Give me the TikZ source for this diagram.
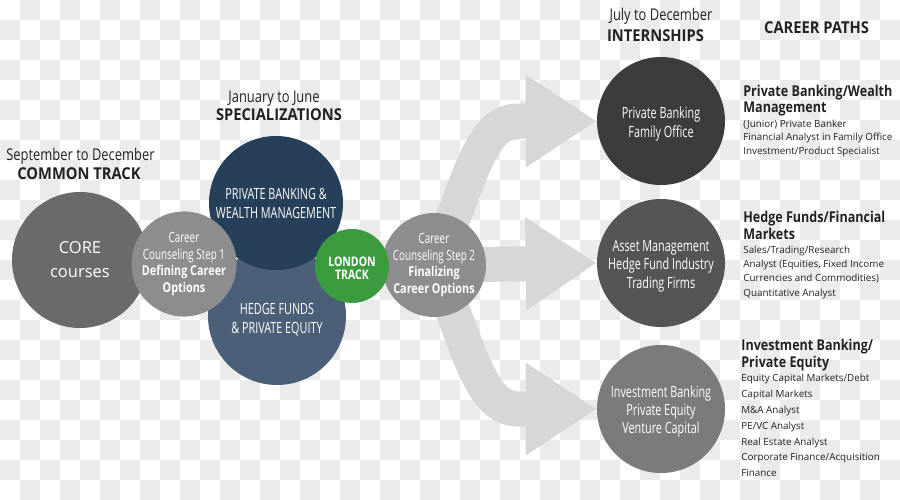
\documentclass[tikz,border=0pt]{standalone}
\usepackage{fontspec}
\setmainfont{Open Sans}
\newfontfamily\xcondf[FakeStretch=0.7]{Open Sans}
\newfontfamily\condf[FakeStretch=0.8]{Open Sans}
\newfontfamily\headf[FakeStretch=0.84]{Open Sans}
\newfontfamily\narrowf[FakeStretch=0.9]{Open Sans}
\usetikzlibrary{positioning,arrows.meta,backgrounds}
\definecolor{checkgray}{HTML}{EBEBEB}
\definecolor{coregray}{HTML}{6A6A6A}
\definecolor{stepgray}{HTML}{8D8D8F}
\definecolor{pbnavy}{HTML}{264059}
\definecolor{hfslate}{HTML}{4B6078}
\definecolor{londongreen}{HTML}{3B9B3F}
\definecolor{flowgray}{HTML}{D6D7D9}
\definecolor{internA}{HTML}{3C3C3C}
\definecolor{internB}{HTML}{555555}
\definecolor{internC}{HTML}{7B7B7B}
\definecolor{inkdark}{HTML}{222222}

\begin{document}
\begin{tikzpicture}[
          x=0.2mm,y=-0.2mm,
          blob/.style={circle,inner sep=0pt,text=white,align=center},
          inside/.style={text=white,align=center,inner sep=0pt,yshift=-#1},
          flow/.style={draw=flowgray,line width=7mm,-{Triangle[length=14.2mm,width=17.6mm]}},
          when/.style={font=\condf\fontsize{9.2}{11}\selectfont,text=inkdark,inner sep=0pt,anchor=base},
          what/.style={font=\narrowf\bfseries\fontsize{9.3}{11}\selectfont,text=inkdark,inner sep=0pt,anchor=base},
          pathhead/.style={font=\headf\bfseries\fontsize{8.5}{#1}\selectfont,text=inkdark,inner sep=0pt,anchor=base west,align=left},
          pathitem/.style={font=\fontsize{5.6}{#1}\selectfont,text=inkdark,inner sep=0pt,anchor=base west,align=left}
        ]
        \useasboundingbox (0,0) rectangle (900,500);

        % internships
        \node[blob,fill=internA,minimum size=25.6mm,label={[inside=0.6mm,font=\xcondf\fontsize{8.8}{10.8}\selectfont]center:{Private Banking\\Family Office}}] (pbfo) at (661,121) {};
        \node[blob,fill=internB,minimum size=25.6mm,label={[inside=0.6mm,font=\xcondf\fontsize{8.8}{10.5}\selectfont]center:{Asset Management\\Hedge Fund Industry\\Trading Firms}}] (asset) at (661,263) {};
        \node[blob,fill=internC,minimum size=25.6mm,label={[inside=0.5mm,font=\xcondf\fontsize{8.8}{10.5}\selectfont]center:{Investment Banking\\Private Equity\\Venture Capital}}] (ibpe) at (661,409) {};

        % common track and specializations
        \node[blob,fill=coregray,minimum size=27.2mm,font=\fontsize{9.4}{13.7}\selectfont] (core) at (80,260) {CORE\\courses};
        \node[blob,fill=hfslate,minimum size=27.6mm,label={[inside=0.8mm,font=\xcondf\fontsize{8.8}{10.8}\selectfont]center:{HEDGE FUNDS\\\& PRIVATE EQUITY}}] (hf) at (277,316) {};
        \node[blob,fill=pbnavy,minimum size=26.8mm,font=\xcondf\fontsize{8.8}{10.8}\selectfont] (pbwm) at (276,203) {PRIVATE BANKING \&\\WEALTH MANAGEMENT};
        \node[blob,fill=stepgray,minimum size=20.8mm,font=\xcondf\fontsize{8}{9.5}\selectfont] (step1) at (184,264) {Career\\Counseling Step 1\\{\condf\bfseries\fontsize{7.7}{9.5}\selectfont Defining Career}\\{\condf\bfseries\fontsize{7.7}{9.5}\selectfont Options}};
        \node[blob,fill=stepgray,minimum size=20.8mm,font=\xcondf\fontsize{8}{9.5}\selectfont] (step2) at (434,265) {Career\\Counseling Step 2\\{\condf\bfseries\fontsize{7.7}{9.5}\selectfont Finalizing}\\{\condf\bfseries\fontsize{7.7}{9.5}\selectfont Career Options}};
        \node[blob,fill=londongreen,minimum size=14.8mm,label={[inside=0.4mm,font=\condf\bfseries\fontsize{7.5}{7.4}\selectfont]center:{LONDON\\TRACK}}] (london) at (352,266) {};

        \begin{scope}[on background layer]
          % checkered backdrop
          \foreach \j in {0,...,24}{
            \foreach \i in {0,...,44}{
              \pgfmathtruncatemacro\odd{mod(\i+\j,2)}
              \ifnum\odd=1 \fill[checkgray] (20*\i,20*\j) rectangle ++(20,20); \fi
            }
          }
          % flows
          \draw[flow] (step2.center) .. controls (468,190) and (478,121) .. (518,121) -- (pbfo.west);
          \draw[flow] (step2.center) -- (asset.west);
          \draw[flow] (step2.center) .. controls (468,340) and (478,409) .. (518,409) -- (ibpe.west);
        \end{scope}

        % period titles
        \node[when] (sepdec) at (80.5,160.7) {September to December};
        \node[what] (common) at (79,179.3) {COMMON TRACK};
        \node[when] (janjun) at (274,102.3) {January to June};
        \node[what] (special) at (279,120.7) {SPECIALIZATIONS};
        \node[when] (juldec) at (661,20.7) {July to December};
        \node[what] (intern) at (655.5,41.7) {INTERNSHIPS};
        \node[what] (careers) at (816.5,33.3) {CAREER PATHS};

        % career paths
        \node[pathhead=9.1] (pbhead) at (743,112.7) {Private Banking/Wealth\\Management};
        \node[pathitem=7.6] (pbitems) at (743,154) {(Junior) Private Banker\\Financial Analyst in Family Office\\Investment/Product Specialist};
        \node[pathhead=9.4] (hfhead) at (743,239.3) {Hedge Funds/Financial\\Markets};
        \node[pathitem=8] (hfitems) at (743,296) {Sales/Trading/Research\\Analyst (Equities, Fixed Income\\Currencies and Commodities)\\Quantitative Analyst};
        \node[pathhead=9.4] (ibhead) at (741,367.3) {Investment Banking/\\Private Equity};
        \node[pathitem=9] (ibitems) at (741,476.7) {Equity Capital Markets/Debt\\Capital Markets\\M\&A Analyst\\PE/VC Analyst\\Real Estate Analyst\\Corporate Finance/Acquisition\\Finance};
      \end{tikzpicture}
\end{document}
